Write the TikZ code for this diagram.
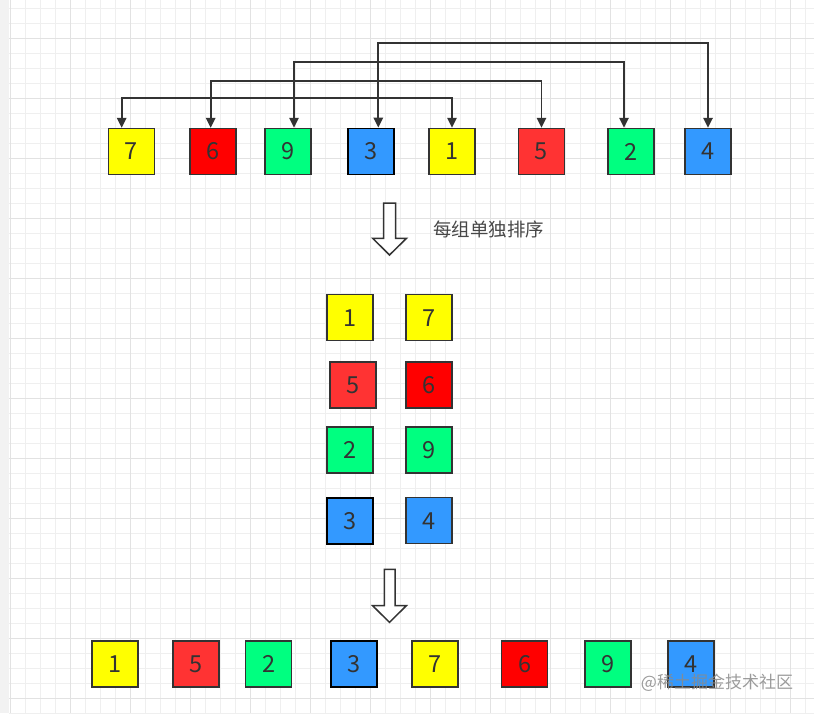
\documentclass[tikz,border=0pt]{standalone}
\usepackage{fontspec}
\setmainfont{Noto Sans CJK SC}
\usetikzlibrary{arrows.meta}
\definecolor{ink}{HTML}{333333}
\definecolor{cyel}{HTML}{FFFF00}
\definecolor{cred}{HTML}{FF0000}
\definecolor{cred2}{HTML}{FF3333}
\definecolor{cgrn}{HTML}{00FF80}
\definecolor{cblu}{HTML}{3399FF}
\definecolor{gminor}{HTML}{EFEFEF}
\definecolor{gmajor}{HTML}{E2E2E2}
\definecolor{wm}{HTML}{8A8A8A}
\tikzset{
  box/.style={draw=ink, line width=1.5pt, minimum width=46pt, minimum height=46pt, inner sep=0pt,
    text=ink, font=\fontsize{23.5}{23.5}\selectfont},
  yel/.style={box, fill=cyel},
  red/.style={box, fill=cred},
  redb/.style={box, fill=cred2},
  grn/.style={box, fill=cgrn},
  blu/.style={box, fill=cblu},
  conn/.style={draw=ink, line width=1.7pt, {Triangle[width=9.5pt,length=10pt]}-{Triangle[width=9.5pt,length=10pt]}},
  hollow/.style={draw=ink, line width=1.5pt, fill=white, line join=miter},
}
\begin{document}
\begin{tikzpicture}[x=1pt,y=-1pt]
\useasboundingbox (0,0) rectangle (814,713);
% background
\fill[white] (0,0) rectangle (814,713);
\fill[gray!10] (0,0) rectangle (9,713);
\foreach \x in {10,25,...,814} \draw[gminor, line width=0.8pt] (\x,0) -- (\x,713);
\foreach \y in {8,23,...,713} \draw[gminor, line width=0.8pt] (9,\y) -- (814,\y);
\foreach \x in {10,70,...,814} \draw[gmajor, line width=0.9pt] (\x,0) -- (\x,713);
\foreach \y in {38,98,...,713} \draw[gmajor, line width=0.9pt] (9,\y) -- (814,\y);

% top row
\node[yel] (t7) at (131.5,151.5) {7};
\node[red] (t6) at (213,151.5) {6};
\node[grn] (t9) at (288,151.5) {9};
\node[blu, draw=black, line width=1.9pt] (t3) at (371,151.5) {3};
\node[yel] (t1) at (452,151.5) {1};
\node[redb] (t5) at (541.5,151.5) {5};
\node[grn] (t2) at (631,151.5) {2};
\node[blu] (t4) at (708,151.5) {4};

% connectors
\draw[conn] ([xshift=-9.8pt]t7.north) -- ++(0,-29.5) -| (t1.north);
\draw[conn] ([xshift=-2.3pt]t6.north) -- ++(0,-46.5) -| (t5.north);
\draw[conn] ([xshift=6pt]t9.north) -- ++(0,-65.5) -| ([xshift=-7pt]t2.north);
\draw[conn] ([xshift=7.3pt]t3.north) -- ++(0,-84.5) -| (t4.north);

% hollow arrow 1
\draw[hollow] (383.5,203) -- (395.5,203) -- (395.5,238.3) -- (406.5,238.3) -- (389.5,255)
  -- (372.7,238.3) -- (383.5,238.3) -- cycle;
\node[text=ink!90, font=\fontsize{18.5}{18.5}\selectfont, anchor=center] (lbl) at (488.5,229.5) {每组单独排序};

% middle
\node[yel] (m1) at (350,317.7) {1};
\node[yel] (m7) at (429,317.7) {7};
\node[redb] (m5) at (352.8,385) {5};
\node[red] (m6) at (429,385) {6};
\node[grn] (m2) at (350,450) {2};
\node[grn] (m9) at (429,450) {9};
\node[blu, draw=black, line width=1.9pt] (m3) at (350,520.7) {3};
\node[blu] (m4) at (429,520.7) {4};

% hollow arrow 2
\draw[hollow] (384.3,569.3) -- (395,569.3) -- (395,605.7) -- (406.3,605.7) -- (389.5,622.3)
  -- (372.6,605.7) -- (384.3,605.7) -- cycle;

% bottom row
\node[yel] (b1) at (115,664) {1};
\node[redb] (b5) at (196,664) {5};
\node[grn] (b2) at (268.7,664) {2};
\node[blu, draw=black, line width=1.9pt] (b3) at (354,664) {3};
\node[yel] (b7) at (435,664) {7};
\node[red] (b6) at (524.7,664) {6};
\node[grn] (b9) at (607.8,664) {9};
\node[blu] (b4) at (691,664) {4};

% watermark
\node[text=wm, opacity=0.85, font=\fontsize{17}{17}\selectfont] (wmk) at (717,683) {@稀土掘金技术社区};
\end{tikzpicture}
\end{document}
